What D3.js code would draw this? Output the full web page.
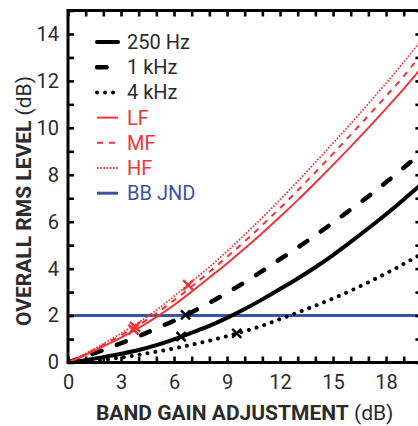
<!DOCTYPE html>
<html>
<head>
<meta charset="utf-8">
<script src="https://cdn.jsdelivr.net/npm/d3@7"></script>
<style>
  html, body { margin: 0; padding: 0; background: #fff; }
  svg { display: block; font-family: Roboto, "Noto Sans", sans-serif; }
</style>
</head>
<body>
<svg id="chart" width="418" height="426"></svg>
<script>
// ---- data ----
const gainDb = [0, 1, 2, 3, 4, 5, 6, 7, 8, 9, 10, 11, 12, 13, 14, 15, 16, 17, 18, 19, 20];
const level250Hz = [0, 0.10, 0.23, 0.37, 0.53, 0.74, 0.99, 1.27, 1.56, 1.90, 2.28, 2.69, 3.13, 3.58, 4.06, 4.58, 5.14, 5.72, 6.32, 6.95, 7.60];
const level1kHz  = [0, 0.26, 0.53, 0.82, 1.12, 1.45, 1.78, 2.14, 2.54, 2.97, 3.42, 3.90, 4.40, 4.90, 5.42, 5.96, 6.52, 7.08, 7.68, 8.30, 8.95];
const level4kHz  = [0, 0.04, 0.11, 0.21, 0.33, 0.46, 0.60, 0.76, 0.93, 1.12, 1.33, 1.57, 1.85, 2.13, 2.42, 2.73, 3.06, 3.42, 3.80, 4.20, 4.62];
const levelLF    = [0, 0.33, 0.69, 1.06, 1.47, 1.93, 2.45, 3.02, 3.62, 4.22, 4.86, 5.52, 6.21, 6.92, 7.66, 8.42, 9.20, 10.00, 10.82, 11.66, 12.55];
const levelMF    = [0, 0.36, 0.75, 1.16, 1.60, 2.10, 2.65, 3.24, 3.86, 4.50, 5.16, 5.86, 6.58, 7.33, 8.11, 8.90, 9.70, 10.52, 11.35, 12.20, 13.15];
const levelHF    = [0, 0.38, 0.80, 1.24, 1.71, 2.23, 2.82, 3.44, 4.07, 4.74, 5.45, 6.18, 6.94, 7.72, 8.53, 9.35, 10.18, 11.03, 11.90, 12.80, 13.75];
const bbJndLevel = 2;
const markerGain  = [6.4, 6.65, 9.55, 3.7, 3.8, 6.8];
const markerLevel = [1.10, 2.03, 1.24, 1.40, 1.52, 3.30];
const markerColor = ["k", "k", "k", "r", "r", "r"];
const seriesNames = ["250 Hz", "1 kHz", "4 kHz", "LF", "MF", "HF", "BB JND"];
const xTickLabels = [0, 3, 6, 9, 12, 15, 18];
const yTickLabels = [0, 2, 4, 6, 8, 10, 12, 14];

// ---- styles ----
const BLACK = "#000";
const TEXT = "#2b2b2b";
const RED = "#ee3439";
const BLUE = "#3a54a4";
const styles = {
  "250 Hz": { color: BLACK, width: 4, dash: null, cap: "round" },
  "1 kHz":  { color: BLACK, width: 4.5, dash: "9.5,16.5", cap: "round" },
  "4 kHz":  { color: BLACK, width: 4, dash: "0.01,8", cap: "round" },
  "LF":     { color: RED, width: 2, dash: null, cap: "butt" },
  "MF":     { color: RED, width: 2, dash: "6,6", cap: "butt" },
  "HF":     { color: RED, width: 1.8, dash: "1.6,1.6", cap: "butt" },
  "BB JND": { color: BLUE, width: 3, dash: null, cap: "butt" }
};
const seriesValues = {
  "250 Hz": level250Hz, "1 kHz": level1kHz, "4 kHz": level4kHz,
  "LF": levelLF, "MF": levelMF, "HF": levelHF
};

// ---- layout ----
const svg = d3.select("#chart");
const L = 68, R = 421.4, T = 10.5, B = 362.5;
const x = d3.scaleLinear().domain([0, 20]).range([L, R]);
const y = d3.scaleLinear().domain([0, 15]).range([B, T]);

svg.append("defs").append("clipPath").attr("id", "plotclip")
  .append("rect").attr("x", L).attr("y", T).attr("width", R - L).attr("height", B - T);

const plot = svg.append("g").attr("clip-path", "url(#plotclip)");

// BB JND line
plot.append("line")
  .attr("x1", x(0)).attr("x2", x(20))
  .attr("y1", y(bbJndLevel)).attr("y2", y(bbJndLevel))
  .attr("stroke", BLUE).attr("stroke-width", 3);

// curves
const line = d3.line()
  .x((d, i) => x(gainDb[i]))
  .y(d => y(d))
  .curve(d3.curveMonotoneX);

["4 kHz", "250 Hz", "1 kHz", "LF", "MF", "HF"].forEach(name => {
  const s = styles[name];
  plot.append("path")
    .datum(seriesValues[name])
    .attr("d", line)
    .attr("fill", "none")
    .attr("stroke", s.color)
    .attr("stroke-width", s.width)
    .attr("stroke-linecap", s.cap)
    .attr("stroke-dasharray", s.dash);
});

// markers (crosses)
markerGain.forEach((g, i) => {
  const cx = x(g), cy = y(markerLevel[i]);
  const r = markerColor[i] === "r" ? 5 : 4.5;
  const col = markerColor[i] === "r" ? RED : BLACK;
  plot.append("path")
    .attr("d", `M${cx - r},${cy - r}L${cx + r},${cy + r}M${cx - r},${cy + r}L${cx + r},${cy - r}`)
    .attr("stroke", col).attr("stroke-width", 2.4).attr("fill", "none");
});

// ---- axes ----
const xTicks = d3.range(0, 21);
const yTicks = d3.range(0, 16);
const fmtX = d => xTickLabels.includes(d) ? d : "";
const fmtY = d => yTickLabels.includes(d) ? d : "";

const axB = svg.append("g").attr("transform", `translate(0,${B})`)
  .call(d3.axisBottom(x).tickValues(xTicks).tickSizeInner(-6).tickSizeOuter(0).tickPadding(12).tickFormat(fmtX));
const axT = svg.append("g").attr("transform", `translate(0,${T})`)
  .call(d3.axisTop(x).tickValues(xTicks).tickSizeInner(-6).tickSizeOuter(0).tickFormat(""));
const axL = svg.append("g").attr("transform", `translate(${L},0)`)
  .call(d3.axisLeft(y).tickValues(yTicks).tickSizeInner(-6).tickSizeOuter(0).tickPadding(9).tickFormat(fmtY));
const axR = svg.append("g").attr("transform", `translate(${R},0)`)
  .call(d3.axisRight(y).tickValues(yTicks).tickSizeInner(-6).tickSizeOuter(0).tickFormat(""));

[axB, axT, axL, axR].forEach(a => {
  a.select(".domain").remove();
  a.selectAll(".tick line").attr("stroke", BLACK).attr("stroke-width", 2.6);
  a.selectAll(".tick text").attr("fill", TEXT).style("font-size", "20px")
    .style("font-family", "Roboto, sans-serif");
});

// frame
svg.append("rect")
  .attr("x", L).attr("y", T).attr("width", R - L).attr("height", B - T)
  .attr("fill", "none").attr("stroke", BLACK).attr("stroke-width", 3);

// ---- axis titles ----
const xt = svg.append("text")
  .attr("x", (L + R) / 2).attr("y", 420)
  .attr("text-anchor", "middle").attr("fill", TEXT)
  .style("font-size", "21px");
xt.append("tspan").attr("font-weight", "bold").text("BAND GAIN ADJUSTMENT");
xt.append("tspan").text(" (dB)");

const yt = svg.append("text")
  .attr("transform", "translate(31,201) rotate(-90)")
  .attr("text-anchor", "middle").attr("fill", TEXT)
  .style("font-size", "21px");
yt.append("tspan").attr("font-weight", "bold").text("OVERALL RMS LEVEL");
yt.append("tspan").text(" (dB)");

// ---- legend ----
const leg = svg.append("g");
seriesNames.forEach((name, i) => {
  const s = styles[name];
  const ly = 42 + i * 25.2;
  leg.append("line")
    .attr("x1", 97).attr("x2", 118).attr("y1", ly).attr("y2", ly)
    .attr("stroke", s.color).attr("stroke-width", s.width)
    .attr("stroke-linecap", s.cap)
    .attr("stroke-dasharray", s.dash);
  leg.append("text")
    .attr("x", 127).attr("y", ly).attr("dy", "0.35em")
    .attr("fill", s.color === BLACK ? TEXT : s.color)
    .style("font-size", "20px")
    .text(name);
});
</script>
</body>
</html>
